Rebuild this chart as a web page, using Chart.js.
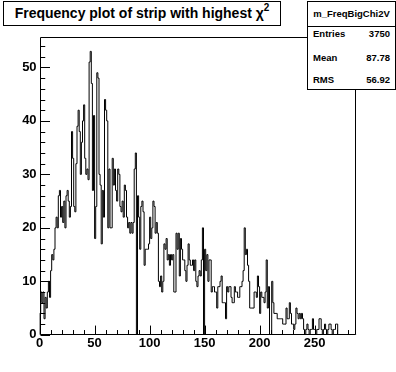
<!DOCTYPE html>
<html><head><meta charset="utf-8">
<script src="https://cdn.jsdelivr.net/npm/chart.js@4.4.1/dist/chart.umd.min.js"></script>
<style>
html,body{margin:0;padding:0;background:#fff;}
#wrap{position:relative;width:396px;height:372px;overflow:hidden;font-family:"Liberation Sans",Arial,Helvetica,sans-serif;font-weight:bold;color:#000;}
#c{position:absolute;left:0;top:0;}
#title{position:absolute;left:3px;top:1px;width:278px;height:25px;border:1px solid #000;box-sizing:border-box;background:#fff;font-size:14px;line-height:23px;text-align:center;white-space:nowrap;}
#title sup{font-size:10px;line-height:0;position:relative;top:-1px;}
#stats{position:absolute;left:307px;top:1px;width:89px;height:89px;border:1px solid #000;box-sizing:border-box;background:#fff;font-size:9.5px;}
#stats .hdr{position:absolute;left:0;top:0;width:100%;height:24px;border-bottom:1px solid #000;text-align:center;line-height:24px;}
#stats .row{position:absolute;left:5px;right:5px;height:14px;line-height:14px;}
#stats .row .n{position:absolute;left:0;}
#stats .row .v{position:absolute;right:0;}
</style>
</head><body>
<div id="wrap">
<canvas id="c" width="396" height="372"></canvas>
<div id="title"></div>
<div id="stats"></div>
</div>
<script>
// ---- data ----
const histName = 'm_FreqBigChi2V';
const titleText = 'Frequency plot of strip with highest \u03C7';
const titleSup = '2';
const statsNames = ['Entries', 'Mean', 'RMS'];
const statsValues = ['3750', '87.78', '56.92'];
const xTickLabels = [0, 50, 100, 150, 200, 250];
const yTickLabels = [0, 10, 20, 30, 40, 50];
const binLow = 0;
const binWidth = 1;
const xMax = 288;
const yMax = 55.65;
const counts = [
 4, 8, 6, 8, 3, 7, 5, 8,10, 7,  12,15,14,16,20,22,20,26,27,22,
24,21,25,20,26,27,25,22,24,38,  33,24,23,32,39,42,38,30,36,40,
43,33,30,31,29,51,53,47,27,41,  18,24,49,48,30,28,17,27,22,44,
42,40,20,31,20,20,33,28,31,27,  25,31,30,24,23,25,22,28,27,22,
20,21,19,21,19,21,31,34, 0,26,  22,16,24,25,23,13,16,16,16,17,
22,18,20,25,24,19,21,19,10, 9,  11, 8,10,17,16,18,14,15,13,15,
14,15, 8, 8,19,16,19,11,18,16,  14,14,12,10,13,17,14,13,13,14,
12,14,10, 9,11,12,11,14,20, 0,  16,12,15,10,14,14, 8, 9, 9, 8,
 8, 5, 9, 9,10,11, 6, 6, 6, 3,   9, 8, 9, 9, 7, 6, 6, 9, 8, 8,
 7, 7, 9, 9,10,12,20,15,16,13,  10, 5, 5, 5, 5, 8, 8, 7,11, 9,
 4, 8, 7, 7, 6, 8,14, 5, 9, 0,   0,10, 6, 4, 4, 4, 3, 3, 3, 3,
 3, 2, 2, 2, 5, 3, 3, 6, 4, 2,   2, 1, 2, 5, 4, 3, 4, 3, 4, 3,
 1, 0, 1, 2, 1, 0, 1, 1, 3, 1,   1, 0, 1, 1, 3, 3, 1, 0, 1, 2,
 1, 0, 1, 2, 2, 1, 0, 1, 1, 2,   2, 0, 0, 0, 0, 0, 0, 0, 0, 0,
 0, 0, 0, 0, 0, 0, 0, 0
];

// ---- text boxes ----
document.getElementById('title').innerHTML = titleText + '<sup>' + titleSup + '</sup>';
const st = document.getElementById('stats');
let html = '<div class="hdr">' + histName + '</div>';
const rowTops = [25, 49, 71];
statsNames.forEach((n, i) => {
  html += '<div class="row" style="top:' + rowTops[i] + 'px"><span class="n">' + n + '</span><span class="v">' + statsValues[i] + '</span></div>';
});
st.innerHTML = html;

// ---- histogram outline points ----
const pts = [{x: binLow, y: 0}];
counts.forEach((c, i) => pts.push({x: binLow + i * binWidth, y: c}));
pts.push({x: binLow + counts.length * binWidth, y: 0});

const fontSpec = {family: '"Liberation Sans", Arial, Helvetica, sans-serif', size: 13, weight: 'bold'};

const rootFrame = {
  id: 'rootFrame',
  afterDraw(chart) {
    const ctx = chart.ctx;
    const a = chart.chartArea;
    const xs = chart.scales.x, ys = chart.scales.y;
    const L = Math.round(a.left) + 0.5, R = Math.round(a.right) - 0.5;
    const T = Math.round(a.top) + 0.5, B = Math.round(a.bottom) - 0.5;
    ctx.save();
    ctx.strokeStyle = '#000';
    ctx.lineWidth = 1;
    ctx.beginPath();
    ctx.rect(L, T, R - L, B - T);
    ctx.stroke();
    ctx.beginPath();
    const fh = a.bottom - a.top, fw = a.right - a.left;
    // x ticks (inside, pointing up)
    for (let v = 0; v <= xMax; v += 10) {
      const px = Math.round(xs.getPixelForValue(v)) + 0.5;
      const len = (v % 50 === 0) ? 0.03 * fh : 0.015 * fh;
      ctx.moveTo(px, B);
      ctx.lineTo(px, B - len);
    }
    // y ticks (inside, pointing right)
    for (let v = 0; v <= yMax; v += 2) {
      const py = Math.round(ys.getPixelForValue(v)) + 0.5;
      const len = (v % 10 === 0) ? 0.03 * fw : 0.015 * fw;
      ctx.moveTo(L, py);
      ctx.lineTo(L + len, py);
    }
    ctx.stroke();
    ctx.restore();
  }
};

new Chart(document.getElementById('c'), {
  type: 'line',
  data: {
    datasets: [{
      data: pts,
      borderColor: '#000',
      borderWidth: 1,
      pointRadius: 0,
      fill: false,
      stepped: true,
      tension: 0
    }]
  },
  options: {
    responsive: false,
    animation: false,
    events: [],
    layout: {padding: {top: 37.2, right: 39.6, left: 0, bottom: 0}},
    plugins: {legend: {display: false}, tooltip: {enabled: false}, title: {display: false}},
    scales: {
      x: {
        type: 'linear', min: binLow, max: xMax,
        grid: {display: false, drawTicks: false, tickLength: 0},
        border: {display: false},
        afterBuildTicks: s => { s.ticks = xTickLabels.map(v => ({value: v})); },
        afterFit: s => { s.height = 37.2; },
        ticks: {color: '#000', font: fontSpec, padding: 1, maxRotation: 0, autoSkip: false,
                callback: v => String(v)}
      },
      y: {
        type: 'linear', min: 0, max: yMax,
        grid: {display: false, drawTicks: false, tickLength: 0},
        border: {display: false},
        afterBuildTicks: s => { s.ticks = yTickLabels.map(v => ({value: v})); },
        afterFit: s => { s.width = 39.6; },
        ticks: {color: '#000', font: fontSpec, padding: 3, autoSkip: false,
                callback: v => String(v)}
      }
    }
  },
  plugins: [rootFrame]
});
</script>
</body></html>
